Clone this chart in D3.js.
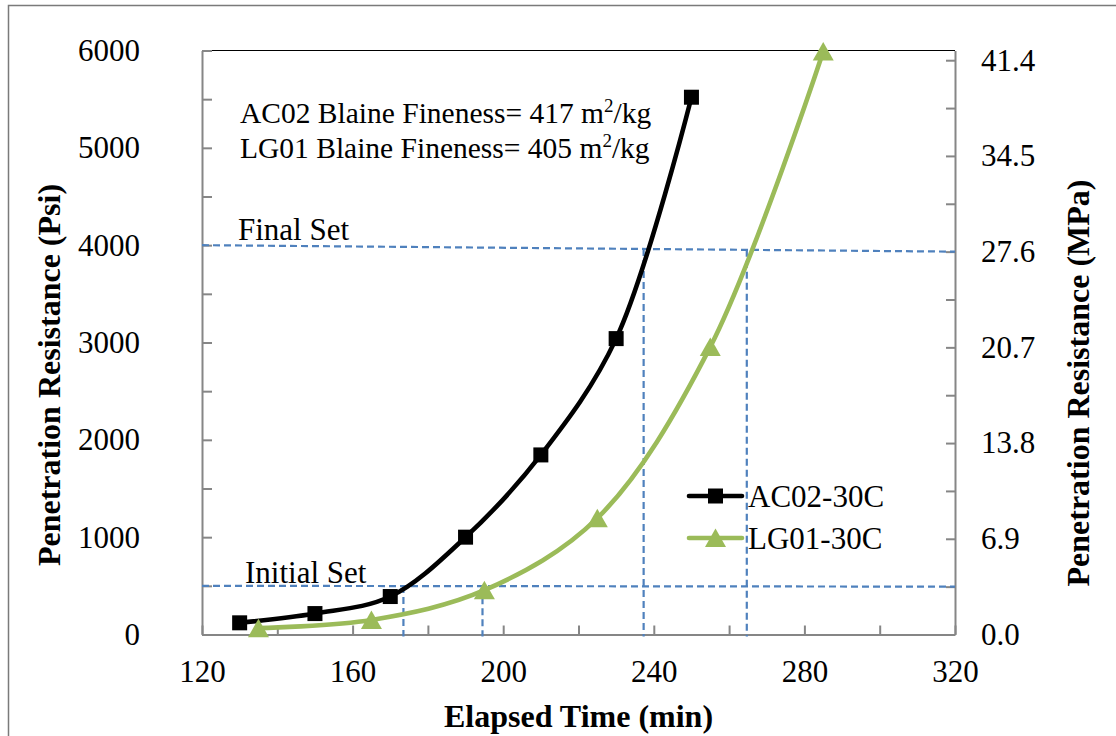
<!DOCTYPE html>
<html>
<head>
<meta charset="utf-8">
<script src="https://cdn.jsdelivr.net/npm/d3@7"></script>
<style>
    body { margin: 0; background: #fff; }
    svg { display: block; font-family: "Liberation Serif", "Times New Roman", serif; }
    .axis path, .axis line { stroke: #868686; stroke-width: 2; }
    .axis text { fill: #000; font-size: 31px; font-family: "Liberation Serif", "Times New Roman", serif; }
    .title { font-size: 32px; font-weight: bold; }
    .set-line { fill: none; stroke: #4F81BD; stroke-width: 2.2; stroke-dasharray: 7,4; }
</style>
</head>
<body>
<div id="chart"></div>
<script>
// data
var timesAC02 = [130, 150, 170, 190, 210, 230, 250];
var psiAC02 = [120, 215, 390, 1000, 1845, 3040, 5520];
var timesLG01 = [135, 165, 195, 225, 255, 285];
var psiLG01 = [65, 150, 455, 1195, 2955, 5990];

var seriesNames = ["AC02-30C", "LG01-30C"];
var noteLines = ["AC02 Blaine Fineness= 417 m", "LG01 Blaine Fineness= 405 m"];

// set limits: left end in psi, right end in MPa
var setNames = ["Initial Set", "Final Set"];
var setPsi = [500, 4000];
var setMPa = [3.45, 27.6];
// times where the curves cross the set limits
var setTimesAC02 = [173.5, 237.3];
var setTimesLG01 = [194.5, 264.7];

var xTicks = d3.range(120, 321, 20);
var xLabels = d3.range(120, 321, 40);
var psiTicks = d3.range(0, 6001, 500);
var psiLabels = d3.range(0, 6001, 1000);
var mpaTicks = d3.range(0, 13).map(function (i) { return i * 3.45; });
var mpaLabels = d3.range(0, 7).map(function (i) { return i * 6.9; });

var width = 1116, height = 736,
    margin = {top: 50.5, left: 202, bottom: 101.5, right: 161};

var svg = d3.select("#chart").append("svg")
    .attr("width", width)
    .attr("height", height);

// outer chart frame (runs off the right and bottom edge)
svg.append("rect")
    .attr("x", 8.5).attr("y", 5.5)
    .attr("width", 1200).attr("height", 800)
    .attr("fill", "none")
    .attr("stroke", "#7a7a7a")
    .attr("stroke-width", 1.5);

var x = d3.scaleLinear().domain([120, 320]).range([margin.left, width - margin.right]);
var yPsi = d3.scaleLinear().domain([0, 6000]).range([height - margin.bottom, margin.top]);
var yMPa = d3.scaleLinear().domain([0, 42.1]).range([height - margin.bottom, margin.top]);

var x0 = x.range()[0], x1 = x.range()[1], yBottom = yPsi(0);

// top border of plot area
svg.append("line")
    .attr("x1", x0).attr("x2", x1)
    .attr("y1", margin.top).attr("y2", margin.top)
    .attr("stroke", "#000").attr("stroke-width", 1.2);

// axes
svg.append("g").attr("class", "axis")
    .attr("transform", "translate(" + x0 + ",0)")
    .call(d3.axisLeft(yPsi).tickValues(psiTicks).tickSize(-10).tickSizeOuter(0).tickFormat(""));

svg.append("g").attr("class", "axis")
    .attr("transform", "translate(" + x0 + ",0)")
    .call(d3.axisLeft(yPsi).tickValues(psiLabels).tickSize(0).tickPadding(62).tickFormat(d3.format("d")))
    .call(function (g) { g.select(".domain").remove(); });

svg.append("g").attr("class", "axis")
    .attr("transform", "translate(" + x1 + ",0)")
    .call(d3.axisRight(yMPa).tickValues(mpaTicks).tickSize(-9).tickSizeOuter(0).tickFormat(""));

svg.append("g").attr("class", "axis")
    .attr("transform", "translate(" + x1 + ",0)")
    .call(d3.axisRight(yMPa).tickValues(mpaLabels).tickSize(0).tickPadding(26).tickFormat(d3.format(".1f")))
    .call(function (g) { g.select(".domain").remove(); });

svg.append("g").attr("class", "axis")
    .attr("transform", "translate(0," + yBottom + ")")
    .call(d3.axisBottom(x).tickValues(xTicks).tickSize(-9).tickSizeOuter(0).tickFormat(""));

svg.append("g").attr("class", "axis")
    .attr("transform", "translate(0," + yBottom + ")")
    .call(d3.axisBottom(x).tickValues(xLabels).tickSize(0).tickPadding(25.5).tickFormat(d3.format("d")))
    .call(function (g) { g.select(".domain").remove(); });

// axis titles
svg.append("text").attr("class", "title")
    .attr("transform", "translate(60,375) rotate(-90)")
    .attr("text-anchor", "middle")
    .text("Penetration Resistance (Psi)");

svg.append("text").attr("class", "title")
    .attr("transform", "translate(1089,383) rotate(-90)")
    .attr("text-anchor", "middle")
    .text("Penetration Resistance (MPa)");

svg.append("text").attr("class", "title")
    .attr("x", (x0 + x1) / 2).attr("y", 727)
    .attr("text-anchor", "middle")
    .text("Elapsed Time (min)");

// set lines: horizontal from left scale to right scale
function setY(i, t) {
    var a = yPsi(setPsi[i]), b = yMPa(setMPa[i]);
    return a + (b - a) * (x(t) - x0) / (x1 - x0);
}

setNames.forEach(function (name, i) {
    svg.append("line").attr("class", "set-line")
        .attr("x1", x0).attr("y1", yPsi(setPsi[i]))
        .attr("x2", x1).attr("y2", yMPa(setMPa[i]));
});

[setTimesAC02, setTimesLG01].forEach(function (times) {
    times.forEach(function (t, i) {
        svg.append("line").attr("class", "set-line")
            .attr("x1", x(t)).attr("x2", x(t))
            .attr("y1", setY(i, t)).attr("y2", yBottom + 2);
    });
});

svg.append("text")
    .attr("x", 245).attr("y", 583)
    .style("font-size", "31px")
    .text(setNames[0]);

svg.append("text")
    .attr("x", 238).attr("y", 240)
    .style("font-size", "31px")
    .text(setNames[1]);

// notes
noteLines.forEach(function (s, i) {
    var t = svg.append("text")
        .attr("x", 240).attr("y", 123 + i * 35)
        .style("font-size", "29.5px");
    t.append("tspan").text(s);
    t.append("tspan").attr("dy", -11).style("font-size", "19px").text("2");
    t.append("tspan").attr("dy", 11).text("/kg");
});

// curves
var line = d3.line()
    .x(function (d) { return x(d.t); })
    .y(function (d) { return yPsi(d.v); })
    .curve(d3.curveCatmullRom.alpha(0.5));

function zip(ts, vs) {
    return ts.map(function (t, i) { return {t: t, v: vs[i]}; });
}

var series = [
    {name: seriesNames[0], data: zip(timesAC02, psiAC02), color: "#000", marker: "square"},
    {name: seriesNames[1], data: zip(timesLG01, psiLG01), color: "#9BBB59", marker: "triangle"}
];

function drawMarker(g, type, color) {
    if (type === "square") {
        g.append("rect").attr("x", -7.5).attr("y", -7.5).attr("width", 15).attr("height", 15).attr("fill", color);
    } else {
        g.append("path").attr("d", "M0,-9.5L10.5,9L-10.5,9Z").attr("fill", color);
    }
}

series.forEach(function (s) {
    svg.append("path")
        .attr("d", line(s.data))
        .attr("fill", "none")
        .attr("stroke", s.color)
        .attr("stroke-width", 4.6)
        .attr("stroke-linecap", "round");

    s.data.forEach(function (d) {
        var g = svg.append("g").attr("transform", "translate(" + x(d.t) + "," + yPsi(d.v) + ")");
        drawMarker(g, s.marker, s.color);
    });
});

// legend
series.forEach(function (s, i) {
    var ly = 496 + i * 42;
    svg.append("line")
        .attr("x1", 689).attr("x2", 742)
        .attr("y1", ly).attr("y2", ly)
        .attr("stroke", s.color).attr("stroke-width", 4.6)
        .attr("stroke-linecap", "round");
    var g = svg.append("g").attr("transform", "translate(715.5," + ly + ")");
    drawMarker(g, s.marker, s.color);
    svg.append("text")
        .attr("x", 748).attr("y", ly + 11)
        .style("font-size", "31px")
        .text(s.name);
});
</script>
</body>
</html>
